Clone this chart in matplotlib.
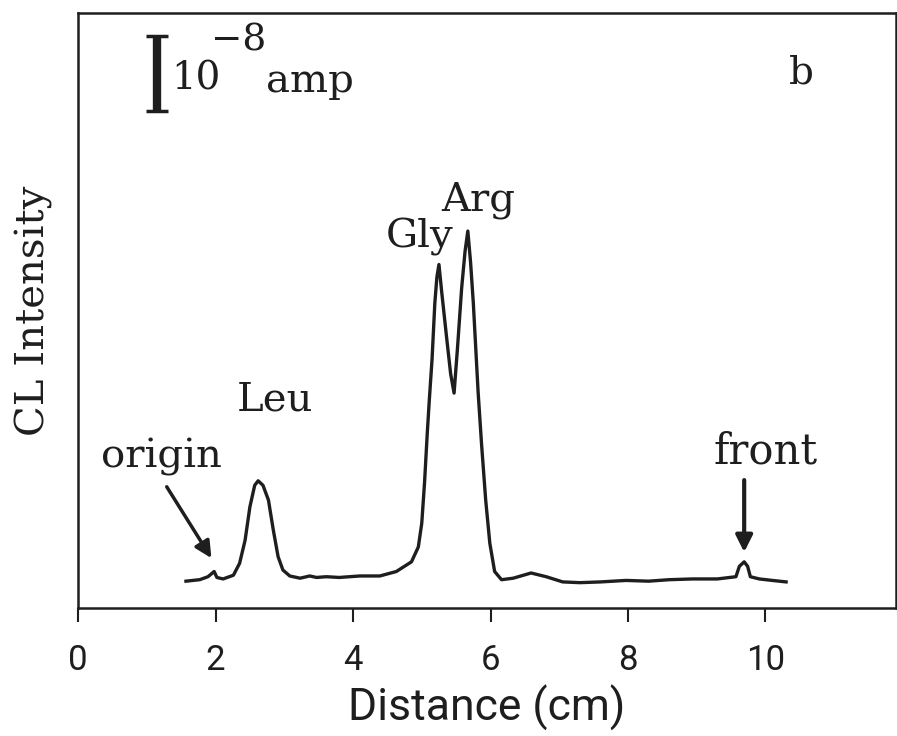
# imports
import matplotlib
matplotlib.use('Agg')
import matplotlib.pyplot as plt
import numpy as np

# plotting params
plt.rcParams['font.family'] = 'DejaVu Serif'
plt.rcParams['axes.linewidth'] = 1.8

# trace: distance (cm) vs CL intensity (units of 1e-8 amp)
distance = [1.57, 1.77, 1.89, 1.98, 2.02, 2.11, 2.26, 2.35, 2.43, 2.50,
            2.57, 2.62, 2.69, 2.77, 2.84, 2.91, 2.98, 3.08, 3.23, 3.37,
            3.47, 3.61, 3.80, 4.10, 4.39, 4.63, 4.85, 4.95, 5.00, 5.04,
            5.08, 5.11, 5.15, 5.19, 5.22, 5.25, 5.29, 5.36, 5.42, 5.47,
            5.52, 5.58, 5.63, 5.67, 5.71, 5.75, 5.82, 5.87, 5.93, 5.99,
            6.06, 6.16, 6.33, 6.59, 6.81, 7.05, 7.30, 7.60, 7.97, 8.30,
            8.60, 8.94, 9.30, 9.57, 9.62, 9.69, 9.74, 9.78, 9.91, 10.10,
            10.30]
intensity = [0.36, 0.38, 0.42, 0.49, 0.41, 0.39, 0.44, 0.60, 0.91, 1.36,
             1.65, 1.71, 1.65, 1.45, 1.05, 0.69, 0.51, 0.43, 0.40, 0.43,
             0.41, 0.42, 0.41, 0.43, 0.43, 0.49, 0.62, 0.82, 1.14, 1.68,
             2.35, 2.80, 3.35, 4.10, 4.45, 4.62, 4.25, 3.65, 3.15, 2.89,
             3.50, 4.30, 4.80, 5.07, 4.65, 4.10, 2.90, 2.20, 1.45, 0.87,
             0.49, 0.38, 0.40, 0.47, 0.42, 0.35, 0.34, 0.35, 0.37, 0.36,
             0.38, 0.39, 0.39, 0.42, 0.56, 0.62, 0.56, 0.42, 0.39, 0.37,
             0.35]

# peak labels and their positions
peak_names = ['Leu', 'Gly', 'Arg']
peak_label_x = [2.86, 4.97, 5.82]
peak_label_y = [2.80, 4.99, 5.48]

xticks = [0, 2, 4, 6, 8, 10]
ink = '#1e1e1e'
sans = ['Roboto', 'DejaVu Sans']

fig = plt.figure(figsize=(8.97, 7.36), dpi=100)
ax = fig.add_axes([0.087, 0.174, 0.912, 0.808])

ax.plot(distance, intensity, color=ink, lw=2.4, solid_joinstyle='round')

for name, lx, ly in zip(peak_names, peak_label_x, peak_label_y):
    ax.text(lx, ly, name, fontsize=29, ha='center', va='center', color=ink)

# arrows for origin and solvent front
ax.text(1.21, 2.03, 'origin', fontsize=29, ha='center', va='center', color=ink)
ax.annotate('', xy=(1.94, 0.67), xytext=(1.29, 1.63),
            arrowprops=dict(arrowstyle='-|>', color=ink, lw=2.5,
                            mutation_scale=25, shrinkA=0, shrinkB=0))
ax.annotate('', xy=(9.69, 0.75), xytext=(9.69, 1.72),
            arrowprops=dict(arrowstyle='-|>', color=ink, lw=3,
                            mutation_scale=25, shrinkA=0, shrinkB=0))
ax.text(10.0, 2.1, 'front', fontsize=30, ha='center', va='center', color=ink)

# scale bar = 1e-8 amp
ax.errorbar([1.15], [7.19], yerr=[0.5], fmt='none', ecolor=ink,
            elinewidth=6, capsize=8, capthick=2.5)
ax.text(1.71, 7.12, '10', fontsize=28, ha='center', va='center', color=ink)
ax.text(2.33, 7.63, '\u22128', fontsize=27, ha='center', va='center', color=ink)
ax.text(3.37, 7.08, 'amp', fontsize=29, ha='center', va='center', color=ink)
ax.text(10.52, 7.20, 'b', fontsize=28, ha='center', va='center', color=ink)

ax.set_xlim(0, 11.9)
ax.set_ylim(0, 8)
ax.set_xticks(xticks)
ax.set_xticklabels([str(t) for t in xticks], family=sans, fontsize=25)
ax.set_yticks([])
ax.tick_params(axis='x', direction='out', length=10, width=1.5, pad=16, colors=ink)
for s in ax.spines.values():
    s.set_color(ink)

ax.set_xlabel('Distance (cm)', family=sans, fontsize=32, labelpad=6, color=ink)
ax.set_ylabel('CL Intensity', fontsize=29, labelpad=18, color=ink)

plt.savefig('out.png', dpi=100)
